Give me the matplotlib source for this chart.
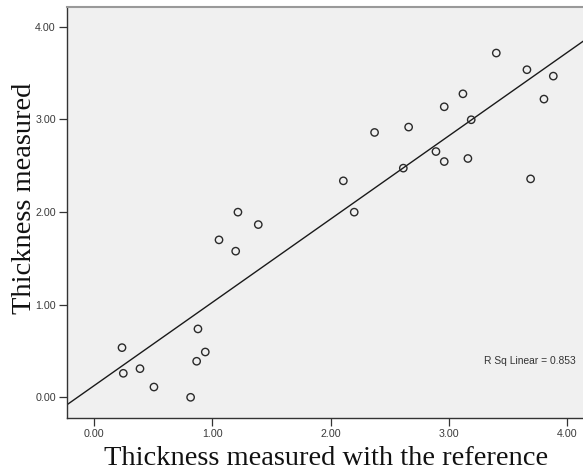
import numpy as np
import matplotlib
matplotlib.use("Agg")
import matplotlib.pyplot as plt

# Data
x_ref = [0.237, 0.248, 0.389, 0.507, 0.817, 0.868, 0.879, 0.941, 1.057, 1.198,
         1.217, 1.389, 2.108, 2.200, 2.372, 2.615, 2.660, 2.891, 2.961, 2.961,
         3.119, 3.161, 3.189, 3.401, 3.660, 3.691, 3.804, 3.883]
y_meas = [0.536, 0.259, 0.309, 0.111, 0.000, 0.389, 0.738, 0.489, 1.699, 1.577,
          1.998, 1.864, 2.336, 1.998, 2.858, 2.473, 2.916, 2.652, 3.135, 2.544,
          3.275, 2.577, 2.995, 3.715, 3.535, 2.357, 3.218, 3.466]
ticks = [0.0, 1.0, 2.0, 3.0, 4.0]
tick_labels = ["0.00", "1.00", "2.00", "3.00", "4.00"]
r2_label = "R Sq Linear = 0.853"

W, H = 583, 470
fig = plt.figure(figsize=(W / 100, H / 100), dpi=100)
fig.patch.set_facecolor("white")

left, right, bottom, top = 67, 583, 417.7, 6.7
ax = fig.add_axes([left / W, 1 - bottom / H, (right - left) / W, (bottom - top) / H])
ax.set_facecolor("#F0F0F0")

xlim = (-0.228, 4.134)
ylim = (-0.220, 4.215)
ax.set_xlim(*xlim)
ax.set_ylim(*ylim)

# Fit line
slope, intercept = np.polyfit(x_ref, y_meas, 1)
xx = np.array(xlim)
ax.plot(xx, intercept + slope * xx, color="#1a1a1a", lw=1.0, zorder=2)

ax.scatter(x_ref, y_meas, s=28, facecolors="none", edgecolors="#2a2a2a",
           linewidths=1.0, zorder=3)

ax.set_xticks(ticks)
ax.set_xticklabels(tick_labels)
ax.set_yticks(ticks)
ax.set_yticklabels(tick_labels)
ax.tick_params(axis="both", direction="out", length=6, width=0.9, color="#333333",
               labelsize=7.7, labelcolor="#3a3a3a", pad=2)
for lab in ax.get_xticklabels() + ax.get_yticklabels():
    lab.set_fontfamily("Liberation Sans")

ax.spines["left"].set_color("#333333")
ax.spines["bottom"].set_color("#333333")
ax.spines["left"].set_linewidth(1.0)
ax.spines["bottom"].set_linewidth(1.0)
ax.spines["top"].set_color("#999999")
ax.spines["top"].set_linewidth(1.5)
ax.spines["right"].set_visible(False)

ax.text(0.985, 0.137, r2_label, transform=ax.transAxes, ha="right", va="center",
        fontsize=7.4, family="Liberation Sans", color="#333333")

fig.text(326 / W, 1 - 465 / H, "Thickness measured with the reference",
         ha="center", va="baseline", fontsize=20.5, family="Liberation Serif",
         color="#111111")
fig.text(24.5 / W, 1 - 198.5 / H, "Thickness measured", rotation=90,
         ha="center", va="center", fontsize=20.5, family="Liberation Serif",
         color="#111111")

fig.savefig("out.png", dpi=100)
